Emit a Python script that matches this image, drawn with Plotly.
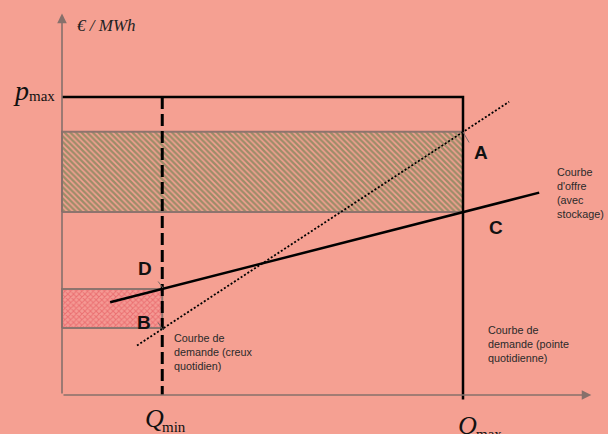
import plotly.graph_objects as go

# ---- data (arbitrary schematic units: Q in %, price in % of p_max) ----
Q_min = 25
Q_max = 100
p_max = 100
Q_axis_end = 132
p_axis_end = 128

band_high_Q = [0, Q_max]          # hatched band (peak)
band_high_p = [61.4, 88.3]
band_low_Q = [0, Q_min]           # hatched band (off-peak)
band_low_p = [22.5, 35.6]

supply_Q = [12, 119]              # Courbe d'offre (avec stockage)
supply_p = [31.1, 67.9]
dotted_Q = [18.7, 111.5]          # dotted curve
dotted_p = [16.6, 98.4]

BG = "#F5A092"
AXIS = "#86706B"
W, H = 608, 434
X0, Y0 = 62, 395
SX, SY = 4.01, 2.98

def P(px, py):
    return px / W, 1 - py / H

fig = go.Figure()

def rect_trace(qs, ps, fg, bg, shape, size, solidity):
    return go.Scatter(
        x=[qs[0], qs[1], qs[1], qs[0], qs[0]],
        y=[ps[0], ps[0], ps[1], ps[1], ps[0]],
        mode="lines", fill="toself", fillcolor=bg,
        fillpattern=dict(shape=shape, fgcolor=fg, bgcolor=bg, size=size, solidity=solidity),
        line=dict(color="#8E746E", width=2), hoverinfo="skip")

fig.add_trace(rect_trace(band_high_Q, band_high_p, "#457A3E", BG, "\\", 4, 0.62))
fig.add_trace(rect_trace(band_low_Q, band_low_p, "#E0474F", "#F59A94", "x", 4, 0.45))

# p_max horizontal + Q_max vertical
fig.add_trace(go.Scatter(x=[0, Q_max, Q_max], y=[p_max, p_max, -1.5], mode="lines",
                         line=dict(color="black", width=2.5), hoverinfo="skip"))
# Q_min dashed
fig.add_trace(go.Scatter(x=[Q_min, Q_min], y=[p_max, 0], mode="lines",
                         line=dict(color="black", width=3, dash="12px,5px"), hoverinfo="skip"))
# dotted curve
fig.add_trace(go.Scatter(x=dotted_Q, y=dotted_p, mode="lines",
                         line=dict(color="black", width=1.8, dash="2px,2px"), hoverinfo="skip"))
# supply curve
fig.add_trace(go.Scatter(x=supply_Q, y=supply_p, mode="lines",
                         line=dict(color="black", width=2.5), hoverinfo="skip"))

ann = []
# axes with arrows
ann.append(dict(x=Q_axis_end, y=0, ax=0, ay=0, xref="x", yref="y", axref="x", ayref="y",
                showarrow=True, arrowhead=2, arrowsize=1.2, arrowwidth=1.6, arrowcolor=AXIS, text=""))
ann.append(dict(x=0, y=p_axis_end, ax=0, ay=0, xref="x", yref="y", axref="x", ayref="y",
                showarrow=True, arrowhead=2, arrowsize=1.2, arrowwidth=1.6, arrowcolor=AXIS, text=""))

# leader lines (tail pixel offset relative to tip)
for (x1, y1, x2, y2) in [(470, 144, 463, 132), (157, 280, 163, 288), (157, 321, 163, 330)]:
    c, d = P(x2, y2)
    ann.append(dict(x=c, y=d, ax=x1 - x2, ay=y1 - y2, xref="paper", yref="paper",
                    axref="pixel", ayref="pixel",
                    showarrow=True, arrowhead=0, arrowwidth=1, arrowcolor="#7a6a66", text=""))

def txt(px, py, text, size, family="Arial", color="#111", xanchor="center", yanchor="middle",
        align="left", weight="normal"):
    x, y = P(px, py)
    ann.append(dict(x=x, y=y, xref="paper", yref="paper", text=text, showarrow=False,
                    xanchor=xanchor, yanchor=yanchor, align=align,
                    font=dict(family=family, size=size, color=color, weight=weight)))

for lab, px, py in [("A", 481, 152), ("C", 496, 228), ("D", 145, 268), ("B", 144, 322)]:
    txt(px, py, lab, 19, weight="bold")

small = 10.8
txt(555, 193, "Courbe<br>d'offre<br>(avec<br>stockage)", small, color="#2a2a2a", xanchor="left")
txt(172, 352, "Courbe de<br>demande (creux<br>quotidien)", small, color="#2a2a2a", xanchor="left")
txt(486, 344, "Courbe de<br>demande (pointe<br>quotidienne)", small, color="#2a2a2a", xanchor="left")

serif = "Liberation Serif"
txt(75, 25, "<i>€ / MWh</i>", 17, family=serif, color="#222", xanchor="left")
txt(11, 90, "<i>p</i>", 28, family=serif, color="#111", xanchor="left")
txt(27, 96, "max", 15, family=serif, color="#111", xanchor="left")
txt(143, 418, "<i>Q</i>", 26, family=serif, color="#111", xanchor="left")
txt(160, 427, "min", 15, family=serif, color="#111", xanchor="left")
txt(456, 425, "<i>Q</i>", 26, family=serif, color="#111", xanchor="left")
txt(474, 434, "max", 15, family=serif, color="#111", xanchor="left")

fig.update_layout(
    width=W, height=H, margin=dict(l=0, r=0, t=0, b=0),
    paper_bgcolor=BG, plot_bgcolor=BG, showlegend=False,
    xaxis=dict(range=[-X0 / SX, (W - X0) / SX], visible=False, fixedrange=True),
    yaxis=dict(range=[(Y0 - H) / SY, Y0 / SY], visible=False, fixedrange=True),
    annotations=ann,
)
fig.write_html("out.html", config={"displayModeBar": False},
               post_script="document.body.style.margin='0';document.body.style.overflow='hidden';")
